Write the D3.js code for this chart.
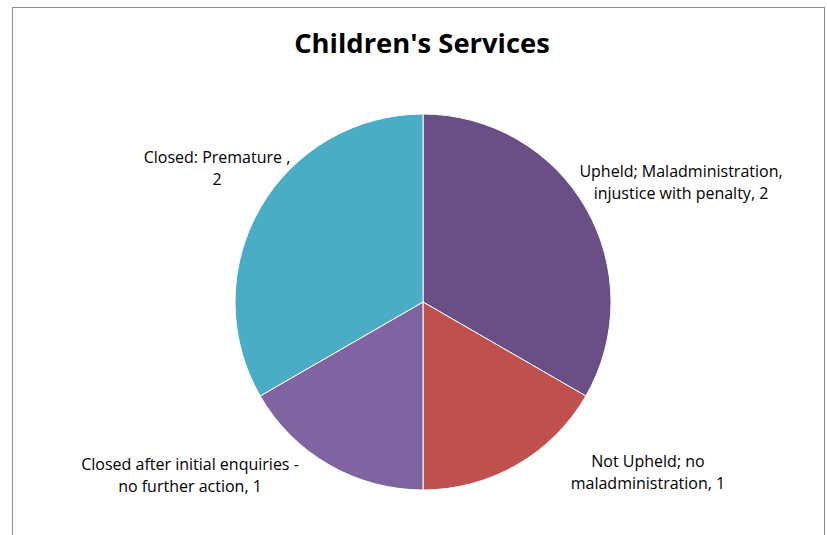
<!DOCTYPE html>
<html><head><meta charset="utf-8">
<script src="https://cdn.jsdelivr.net/npm/d3@7"></script>
<style>body{margin:0;background:#fff}svg{display:block}</style>
</head><body>
<svg id="c" width="827" height="535"></svg>
<script>
const categories = ["Upheld; Maladministration, injustice with penalty", "Not Upheld; no maladministration", "Closed after initial enquiries - no further action", "Closed: Premature "];
const values = [2, 1, 1, 2];
const colors = ["#6A4F87", "#C0504D", "#8064A2", "#4BACC6"];
const labelLines = [
  ["Upheld; Maladministration,", "injustice with penalty, 2"],
  ["Not Upheld; no", "maladministration, 1"],
  ["Closed after initial enquiries -", "no further action, 1"],
  ["Closed: Premature ,", "2"]
];
const labelPos = [[681,177],[648,467],[190,470],[217,163]];

const svg = d3.select("#c");
svg.append("rect").attr("x",12.5).attr("y",7.5).attr("width",812).attr("height",540)
  .attr("fill","#fff").attr("stroke","#8c8c8c").attr("stroke-width",1);

svg.append("text").attr("x",422).attr("y",53).attr("text-anchor","middle")
  .attr("font-family","'Open Sans', sans-serif").attr("font-weight","bold")
  .attr("font-size",27.4).attr("fill","#000").text("Children's Services");

const cx = 423, cy = 302, r = 188;
const pie = d3.pie().sort(null).value(d => d)(values);
const arc = d3.arc().innerRadius(0).outerRadius(r);
const g = svg.append("g").attr("transform",`translate(${cx},${cy})`);
g.selectAll("path").data(pie).join("path")
  .attr("d", arc).attr("fill",(d,i)=>colors[i]).attr("stroke","#fff").attr("stroke-width",1);

labelLines.forEach((lines,i)=>{
  const t = svg.append("text").attr("text-anchor","middle")
    .attr("font-family","'Open Sans', sans-serif").attr("font-size",16).attr("fill","#000");
  lines.forEach((l,j)=>{
    t.append("tspan").attr("x",labelPos[i][0]).attr("y",labelPos[i][1]+j*21.5).text(l);
  });
});
</script>
</body></html>
